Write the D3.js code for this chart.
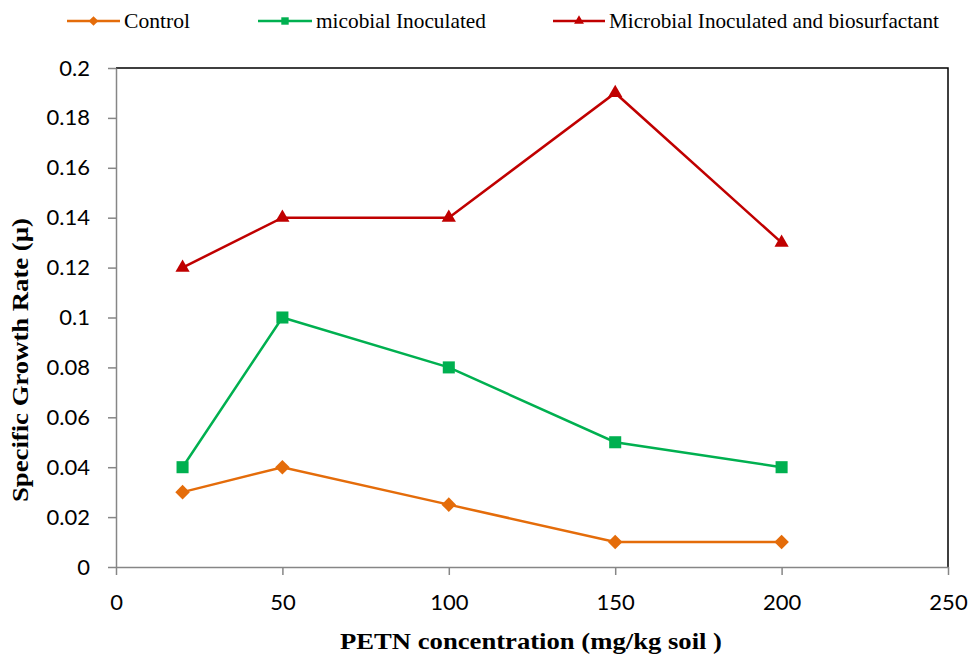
<!DOCTYPE html>
<html><head><meta charset="utf-8">
<script src="https://cdn.jsdelivr.net/npm/d3@7"></script>
<style>body{margin:0;background:#fff}</style>
</head><body>
<svg id="c" width="971" height="655"></svg>
<script>
const xValues = [20, 50, 100, 150, 200];
const controlValues = [0.03, 0.04, 0.025, 0.01, 0.01];
const inoculatedValues = [0.04, 0.1, 0.08, 0.05, 0.04];
const bioValues = [0.12, 0.14, 0.14, 0.19, 0.13];
const xTicks = [0, 50, 100, 150, 200, 250];
const yTicks = [0, 0.02, 0.04, 0.06, 0.08, 0.1, 0.12, 0.14, 0.16, 0.18, 0.2];
const seriesNames = ["Control", "micobial Inoculated", "Microbial Inoculated and biosurfactant"];

const series = [
  {name: seriesNames[0], values: controlValues, color: "#E46C0A", marker: "diamond"},
  {name: seriesNames[1], values: inoculatedValues, color: "#00B050", marker: "square"},
  {name: seriesNames[2], values: bioValues, color: "#C00000", marker: "triangle"}
];

const svg = d3.select("#c");
const L = 116, R = 948, T = 68, B = 567;
const x = d3.scaleLinear().domain([0, 250]).range([L, R]);
const y = d3.scaleLinear().domain([0, 0.2]).range([B, T]);

svg.append("path").attr("d", `M${L},${T}H${R}V${B}`).attr("fill","none").attr("stroke","#000").attr("stroke-width",1.5);

const fmt = d => d === 0 ? "0" : String(+d.toFixed(3));
const yAxis = svg.append("g").attr("transform", `translate(${L},0)`)
  .call(d3.axisLeft(y).tickValues(yTicks).tickSize(8).tickSizeOuter(0).tickPadding(18).tickFormat(fmt));
const xAxis = svg.append("g").attr("transform", `translate(0,${B})`)
  .call(d3.axisBottom(x).tickValues(xTicks).tickSize(8).tickSizeOuter(0).tickPadding(19).tickFormat(d3.format("d")));
[yAxis, xAxis].forEach(g => {
  g.select(".domain").attr("stroke", "#868686").attr("stroke-width", 1.5);
  g.selectAll(".tick line").attr("stroke", "#868686").attr("stroke-width", 1.5);
  g.selectAll(".tick text").attr("fill", "#000").style("font-family", "Lato, 'Open Sans', sans-serif").style("font-size", "22px");
});

const symbols = {
  diamond: d3.symbol().type(d3.symbolDiamond2).size(135),
  square: d3.symbol().type(d3.symbolSquare2).size(185),
  triangle: d3.symbol().type(d3.symbolTriangle2).size(145)
};

const line = d3.line().x((d,i) => x(xValues[i])).y(d => y(d));
series.forEach(s => {
  svg.append("path").datum(s.values).attr("d", line).attr("fill","none")
    .attr("stroke", s.color).attr("stroke-width", 2.5);
  svg.selectAll(null).data(s.values).enter().append("path")
    .attr("d", symbols[s.marker])
    .attr("transform", (d,i) => `translate(${x(xValues[i])},${y(d)})`)
    .attr("fill", s.color);
});

const legendPos = [{x1: 67, x2: 120, w: 66}, {x1: 258, x2: 312, w: 170}, {x1: 553, x2: 605, w: 330}];
const smallSym = {
  diamond: d3.symbol().type(d3.symbolDiamond2).size(60),
  square: d3.symbol().type(d3.symbolSquare2).size(70),
  triangle: d3.symbol().type(d3.symbolTriangle2).size(70)
};
series.forEach((s, i) => {
  const p = legendPos[i], ly = 21;
  svg.append("line").attr("x1", p.x1).attr("x2", p.x2).attr("y1", ly).attr("y2", ly)
    .attr("stroke", s.color).attr("stroke-width", 2.5);
  svg.append("path").attr("d", smallSym[s.marker]).attr("transform", `translate(${(p.x1+p.x2)/2},${ly})`).attr("fill", s.color);
  svg.append("text").attr("x", p.x2 + 4).attr("y", ly + 7).text(s.name)
    .attr("textLength", p.w).attr("lengthAdjust", "spacingAndGlyphs")
    .style("font-family", "'Liberation Serif', 'Times New Roman', serif").style("font-size", "21px");
});

svg.append("text").attr("x", 531).attr("y", 649).attr("text-anchor", "middle")
  .attr("textLength", 382).attr("lengthAdjust", "spacingAndGlyphs")
  .text("PETN concentration (mg/kg soil )")
  .style("font-family", "'Liberation Serif', 'Times New Roman', serif").style("font-size", "24px").style("font-weight", "bold");
svg.append("text").attr("transform", `translate(28,360) rotate(-90)`).attr("text-anchor", "middle")
  .attr("textLength", 284).attr("lengthAdjust", "spacingAndGlyphs")
  .text("Specific Growth Rate (µ)")
  .style("font-family", "'Liberation Serif', 'Times New Roman', serif").style("font-size", "24px").style("font-weight", "bold");
</script>
</body></html>
